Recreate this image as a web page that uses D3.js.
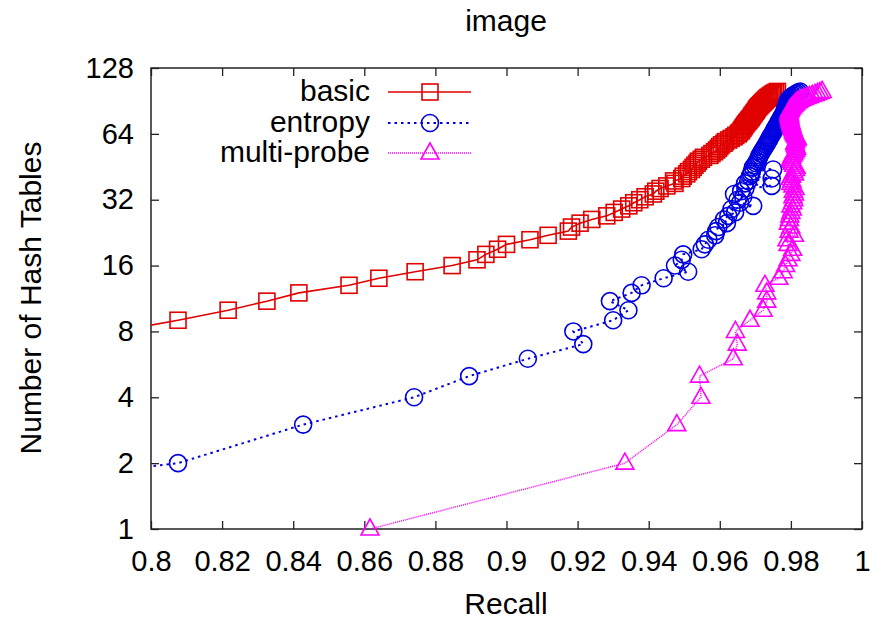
<!DOCTYPE html>
<html>
<head>
<meta charset="utf-8">
<script src="https://cdn.jsdelivr.net/npm/d3@7"></script>
<style>
body { margin: 0; background: #fff; }
svg text { font-family: "Liberation Sans", Arial, sans-serif; }
</style>
</head>
<body>
<div id="chart"></div>
<script>
// values: number of hash tables vs recall
var basicTables = [8,9,10,11,12,13,14,15,16,17,18,19,20,21,22,23,24,25,26,27,28,29,30,31,32,33,34,35,36,37,38,39,40,41,42,43,44,45,46,47,48,49,50,51,52,53,54,55,56,57,58,59,60,61,62,63,64,65,66,67,68,69,70,71,72,73,74,75,76,77,78,79,80,81,82,83,84,85,86,87,88,89,90,91,92,93,94,95,96,97,98,99,100];
var basicRecall = [0.790,0.8076,0.8217,0.8326,0.8416,0.8557,0.8641,0.8743,0.8847,0.8917,0.8942,0.8975,0.9000,0.9066,0.9117,0.9174,0.9183,0.9207,0.9240,0.9282,0.9303,0.9324,0.9344,0.9358,0.9375,0.9390,0.9413,0.9420,0.9432,0.9451,0.9474,0.9470,0.9493,0.9497,0.9507,0.9512,0.9520,0.9525,0.9530,0.9536,0.9540,0.9548,0.9554,0.9572,0.9578,0.9585,0.9591,0.9596,0.9600,0.9605,0.9612,0.9616,0.9625,0.9632,0.9640,0.9645,0.9652,0.9655,0.9660,0.9662,0.9665,0.9668,0.9670,0.9673,0.9676,0.9679,0.9682,0.9685,0.9688,0.9690,0.9692,0.9695,0.9697,0.9700,0.9702,0.9704,0.9706,0.9709,0.9712,0.9715,0.9718,0.9721,0.9724,0.9727,0.9730,0.9733,0.9736,0.9740,0.9744,0.9748,0.9752,0.9757,0.9762];

var entropyTables = [1,2,3,4,5,6,7,8,9,10,11,12,13,14,15,16,17,18,19,20,21,22,23,24,25,26,27,28,29,30,31,32,33,34,35,36,37,38,39,40,41,42,43,44,45,46,47,48,49,50,51,52,53,54,55,56,57,58,59,60,61,62,63,64,65,66,67,68,69,70,71,72,73,74,75,76,77,78,79,80,81,82,83,84,85,86,87,88,89,90,91,92,93,94,95,96,97,98,99,100];
var entropyRecall = [0.65,0.8076,0.8428,0.8740,0.8895,0.9060,0.9216,0.9188,0.9300,0.9343,0.9291,0.9352,0.9380,0.9442,0.9511,0.9474,0.9493,0.9497,0.9549,0.9558,0.9568,0.9587,0.9590,0.9596,0.9620,0.9612,0.9624,0.9643,0.9633,0.9694,0.9657,0.9650,0.9666,0.9640,0.9660,0.9672,0.9746,0.9671,0.9680,0.9746,0.9685,0.9688,0.9690,0.9750,0.9693,0.9698,0.9702,0.9705,0.9708,0.9710,0.9712,0.9715,0.9718,0.9721,0.9724,0.9727,0.9730,0.9733,0.9735,0.9738,0.9740,0.9742,0.9745,0.9748,0.9750,0.9752,0.9754,0.9756,0.9759,0.9761,0.9763,0.9765,0.9767,0.9769,0.9771,0.9773,0.9775,0.9777,0.9779,0.9781,0.9782,0.9783,0.9784,0.9785,0.9786,0.9787,0.9788,0.9789,0.9790,0.9791,0.9792,0.9794,0.9797,0.9800,0.9803,0.9807,0.9812,0.9816,0.9821,0.9826];

var probeTables = [1,2,3,4,5,6,7,8,9,10,11,12,13,14,15,16,17,18,19,20,21,22,23,24,25,26,27,28,29,30,31,32,33,34,35,36,37,38,39,40,41,42,43,44,45,46,47,48,49,50,51,52,53,54,55,56,57,58,59,60,61,62,63,64,65,66,67,68,69,70,71,72,73,74,75,76,77,78,79,80,81,82,83,84,85,86,87,88,89,90,91,92,93,94,95,96,97,98,99,100];
var probeRecall = [0.8616,0.9333,0.9479,0.9547,0.9543,0.9638,0.9649,0.9644,0.9685,0.9722,0.9732,0.9732,0.9727,0.9766,0.9778,0.9785,0.9792,0.9800,0.9805,0.9792,0.9789,0.9810,0.9795,0.9800,0.9793,0.9796,0.9797,0.9800,0.9804,0.9800,0.9805,0.9808,0.9806,0.9810,0.9807,0.9812,0.9806,0.9800,0.9803,0.9798,0.9802,0.9810,0.9808,0.9813,0.9815,0.9808,0.9804,0.9802,0.9800,0.9802,0.9805,0.9808,0.9811,0.9814,0.9816,0.9814,0.9812,0.9811,0.9813,0.9816,0.9818,0.9815,0.9812,0.9810,0.9808,0.9807,0.9806,0.9804,0.9803,0.9802,0.9801,0.9800,0.9799,0.9798,0.9797,0.9797,0.9796,0.9796,0.9795,0.9795,0.9796,0.9797,0.9799,0.9801,0.9804,0.9807,0.9810,0.9813,0.9816,0.9820,0.9825,0.9831,0.9838,0.9845,0.9852,0.9860,0.9868,0.9875,0.9882,0.9888];

var xTicks = [0.8,0.82,0.84,0.86,0.88,0.9,0.92,0.94,0.96,0.98,1];
var xTickLabels = ["0.8","0.82","0.84","0.86","0.88","0.9","0.92","0.94","0.96","0.98","1"];
var yTicks = [1,2,4,8,16,32,64,128];
var seriesNames = ["basic","entropy","multi-probe"];

var W = 875, H = 621;
var L = 151, R = 862, T = 68, B = 529;

var svg = d3.select("#chart").append("svg")
  .attr("width", W)
  .attr("height", H);

var x = d3.scaleLinear().domain([0.8, 1]).range([L, R]);
var y = d3.scaleLog().base(2).domain([1, 128]).range([B, T]);

svg.append("defs").append("clipPath").attr("id", "clip")
  .append("rect").attr("x", L).attr("y", T).attr("width", R - L).attr("height", B - T);

// axes, ticks pointing inward
svg.append("g")
  .attr("transform", "translate(0," + B + ")")
  .call(d3.axisBottom(x).tickValues(xTicks).tickSize(-8).tickPadding(21)
    .tickFormat(function(d, i) { return xTickLabels[i]; }));
svg.append("g")
  .attr("transform", "translate(0," + T + ")")
  .call(d3.axisTop(x).tickValues(xTicks).tickSize(-8).tickFormat(""));
svg.append("g")
  .attr("transform", "translate(" + L + ",0)")
  .call(d3.axisLeft(y).tickValues(yTicks).tickSize(-8).tickPadding(17)
    .tickFormat(d3.format("d")));
svg.append("g")
  .attr("transform", "translate(" + R + ",0)")
  .call(d3.axisRight(y).tickValues(yTicks).tickSize(-8).tickFormat(""));

svg.selectAll(".domain").remove();
svg.selectAll(".tick line").attr("stroke", "#222").attr("stroke-width", 1.3);
svg.selectAll(".tick text").attr("font-size", 29).attr("fill", "#000")
  .style("font-family", "'Liberation Sans', Arial, sans-serif");

svg.append("rect")
  .attr("x", L).attr("y", T).attr("width", R - L).attr("height", B - T)
  .attr("fill", "none").attr("stroke", "#222").attr("stroke-width", 1.5);

// titles
svg.append("text").attr("x", 506).attr("y", 31).attr("text-anchor", "middle")
  .attr("font-size", 30).text("image");
svg.append("text").attr("x", 506).attr("y", 614).attr("text-anchor", "middle")
  .attr("font-size", 30).text("Recall");
svg.append("text").attr("transform", "translate(41,298) rotate(-90)")
  .attr("text-anchor", "middle").attr("font-size", 30).text("Number of Hash Tables");

function pts(xs, ys) {
  return xs.map(function(v, i) { return [v, ys[i]]; });
}

var series = [
  { name: seriesNames[0], data: pts(basicRecall, basicTables), color: "#e00000", dash: null, width: 1.6, mark: "square" },
  { name: seriesNames[1], data: pts(entropyRecall, entropyTables), color: "#0000e0", dash: "2.5,4", width: 2, mark: "circle" },
  { name: seriesNames[2], data: pts(probeRecall, probeTables), color: "#ff00ff", dash: "1,1", width: 1.5, mark: "triangle" }
];

var line = d3.line()
  .x(function(d) { return x(d[0]); })
  .y(function(d) { return y(d[1]); });

function drawMark(g, kind, cx, cy, color) {
  if (kind == "square") {
    g.append("rect").attr("x", cx - 8).attr("y", cy - 8).attr("width", 16).attr("height", 16)
      .attr("fill", "none").attr("stroke", color).attr("stroke-width", 1.6);
  } else if (kind == "circle") {
    g.append("circle").attr("cx", cx).attr("cy", cy).attr("r", 8.5)
      .attr("fill", "none").attr("stroke", color).attr("stroke-width", 1.6);
  } else {
    g.append("path")
      .attr("d", "M" + cx + "," + (cy - 10) + "L" + (cx + 9) + "," + (cy + 6) + "L" + (cx - 9) + "," + (cy + 6) + "Z")
      .attr("fill", "none").attr("stroke", color).attr("stroke-width", 1.6);
  }
}

series.forEach(function(s) {
  var g = svg.append("g");
  g.append("path")
    .datum(s.data)
    .attr("clip-path", "url(#clip)")
    .attr("d", line)
    .attr("fill", "none")
    .attr("stroke", s.color)
    .attr("stroke-width", s.width)
    .attr("stroke-dasharray", s.dash);
  s.data.filter(function(d) { return d[0] >= 0.8; }).forEach(function(d) {
    drawMark(g, s.mark, x(d[0]), y(d[1]), s.color);
  });
});

// legend
var legY = [92, 123, 153];
series.forEach(function(s, i) {
  var g = svg.append("g");
  g.append("text").attr("x", 370).attr("y", legY[i] + 9).attr("text-anchor", "end")
    .attr("font-size", 30).text(s.name);
  g.append("line").attr("x1", 388).attr("x2", 471).attr("y1", legY[i]).attr("y2", legY[i])
    .attr("stroke", s.color).attr("stroke-width", s.width).attr("stroke-dasharray", s.dash);
  drawMark(g, s.mark, 430, legY[i], s.color);
});
</script>
</body>
</html>
